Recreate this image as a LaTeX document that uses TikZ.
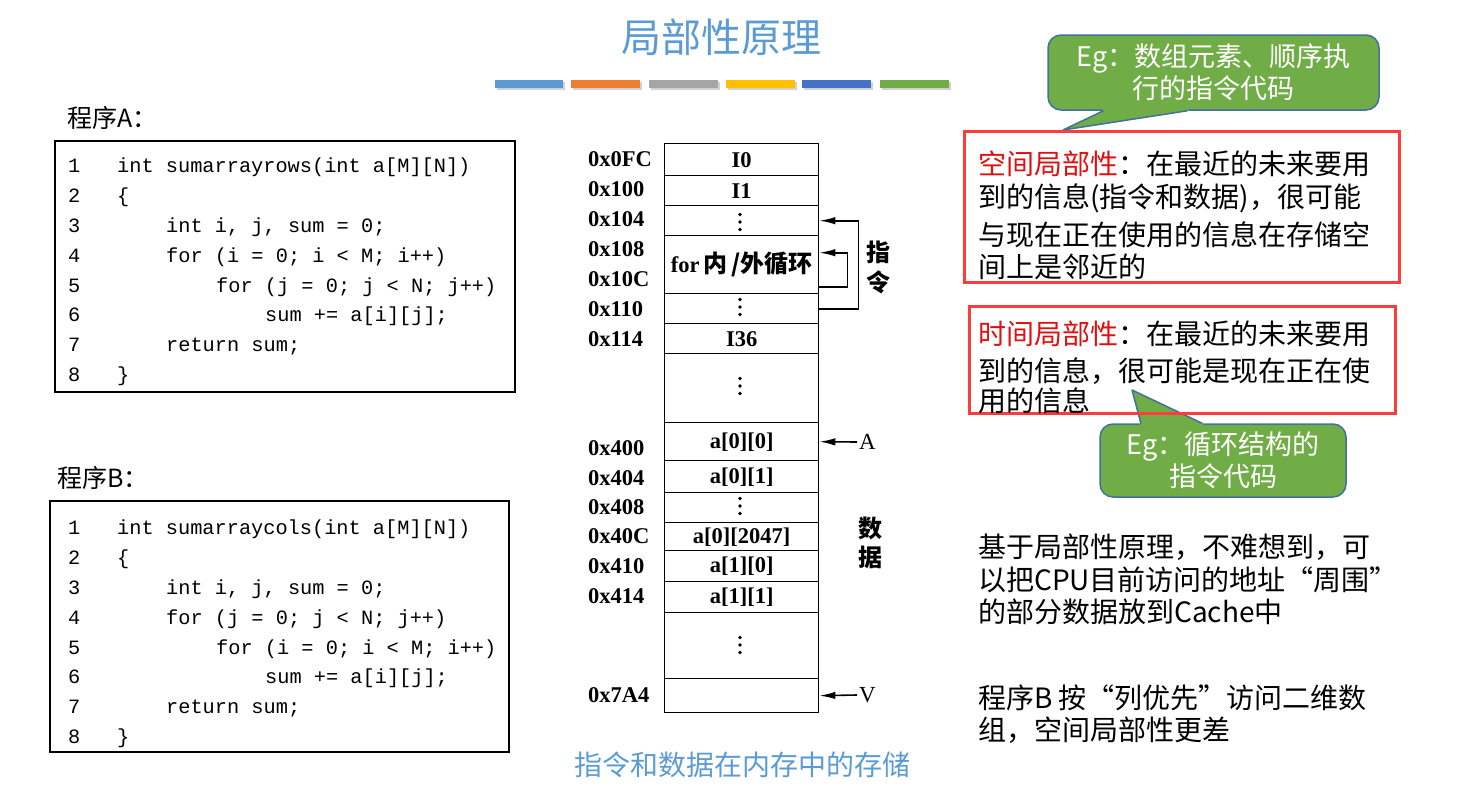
\documentclass[tikz,border=0pt]{standalone}
\usepackage{fontspec}
\setmainfont{Liberation Serif}
\newfontfamily\cjk{Noto Sans CJK SC}
\newfontfamily\mono{Liberation Mono}
\usetikzlibrary{arrows.meta}
\definecolor{tblue}{HTML}{5B9BD5}
\definecolor{borange}{HTML}{ED7D31}
\definecolor{bgray}{HTML}{A5A5A5}
\definecolor{byellow}{HTML}{FFC000}
\definecolor{bdblue}{HTML}{4472C4}
\definecolor{bgreen}{HTML}{70AD47}
\definecolor{cborder}{HTML}{41719C}
\definecolor{rbox}{HTML}{FF3B3B}
\definecolor{rtext}{HTML}{E01010}
\tikzset{bigtip/.tip={Latex[length=16pt,width=7.5pt]}}
\begin{document}
\begin{tikzpicture}[x=1pt,y=-1pt,
  codeln/.style={anchor=base west, inner sep=0, font=\mono\fontsize{20.3}{24}\selectfont},
  addr/.style={anchor=base west, inner sep=0, font=\bfseries\fontsize{22.5}{26}\selectfont},
  cell/.style={draw, line width=1.4, minimum width=154, anchor=north west, inner sep=0, font=\bfseries\fontsize{22.5}{26}\selectfont},
  arr/.style={line width=1.6, arrows={-bigtip}},
  rtxt/.style={anchor=base west, inner sep=0, font=\cjk\fontsize{28}{30}\selectfont},
  greenbox/.style={fill=bgreen, draw=cborder, line width=1.5, rounded corners=13, inner sep=0, text=white, align=center, font=\cjk\fontsize{27}{32}\selectfont},
  redbox/.style={draw=rbox, line width=3},
  vlab/.style={font=\cjk\bfseries\fontsize{24}{26}\selectfont, inner sep=0}
]
\useasboundingbox (0,0) rectangle (1462,787);

% title
\node[font=\cjk\fontsize{40}{48}\selectfont, text=tblue, inner sep=0] (title) at (721,37) {局部性原理};
% color bars
\foreach \xa/\xb/\c in {495/563/tblue, 571/640/borange, 649/718/bgray, 726/795/byellow, 802/871/bdblue, 880/949/bgreen}{
  \fill[black, opacity=0.18] (\xa+1.5,81.5) rectangle (\xb+1.5,89.5);
  \fill[\c] (\xa,80) rectangle (\xb,88);
}

% program A
\node[anchor=west, inner sep=0, font=\cjk\fontsize{25}{28}\selectfont] (labA) at (67,118) {程序A：};
\draw[line width=1.5] (55,141) rectangle (515,392);
\foreach \n/\yy in {1/165,2/195,3/225,4/255,5/285,6/314,7/344,8/374}{
  \node[codeln] (na\n) at (68,\yy+7) {\n};
}
\node[codeln] (a1) at (117,172) {int sumarrayrows(int a[M][N])};
\node[codeln] (a2) at (117,202) {\{};
\node[codeln] (a3) at (166,232) {int i, j, sum = 0;};
\node[codeln] (a4) at (166,262) {for (i = 0; i < M; i++)};
\node[codeln] (a5) at (216,292) {for (j = 0; j < N; j++)};
\node[codeln] (a6) at (265,321) {sum += a[i][j];};
\node[codeln] (a7) at (166,351) {return sum;};
\node[codeln] (a8) at (117,381) {\}};

% program B
\node[anchor=west, inner sep=0, font=\cjk\fontsize{25}{28}\selectfont] (labB) at (57,478) {程序B：};
\draw[line width=1.5] (50,501) rectangle (509,752);
\foreach \n/\yy in {1/527,2/557,3/587,4/617,5/647,6/676,7/706,8/736}{
  \node[codeln] (nb\n) at (68,\yy+7) {\n};
}
\node[codeln] (b1) at (117,534) {int sumarraycols(int a[M][N])};
\node[codeln] (b2) at (117,564) {\{};
\node[codeln] (b3) at (166,594) {int i, j, sum = 0;};
\node[codeln] (b4) at (166,624) {for (j = 0; j < N; j++)};
\node[codeln] (b5) at (216,654) {for (i = 0; i < M; i++)};
\node[codeln] (b6) at (265,683) {sum += a[i][j];};
\node[codeln] (b7) at (166,713) {return sum;};
\node[codeln] (b8) at (117,743) {\}};

% memory cells
\node[cell, minimum height=32] (r0) at (664,143) {I0};
\node[cell, minimum height=30] (r1) at (664,175) {I1};
\node[cell, minimum height=30] (r2) at (664,205) {};
\node[cell, minimum height=58] (r3) at (664,235) {for\,{\cjk\fontsize{24}{26}\selectfont 内\,/外循环}};
\node[cell, minimum height=30] (r4) at (664,293) {};
\node[cell, minimum height=30] (r5) at (664,323) {I36};
\node[cell, minimum height=69] (r6) at (664,353) {};
\node[cell, minimum height=38] (r7) at (664,422) {a[0][0]};
\node[cell, minimum height=32] (r8) at (664,460) {a[0][1]};
\node[cell, minimum height=30] (r9) at (664,492) {};
\node[cell, minimum height=28] (r10) at (664,522) {a[0][2047]};
\node[cell, minimum height=31] (r11) at (664,550) {a[1][0]};
\node[cell, minimum height=31] (r12) at (664,581) {a[1][1]};
\node[cell, minimum height=66] (r13) at (664,612) {};
\node[cell, minimum height=34] (r14) at (664,678) {};
% vertical dots
\foreach \yy in {222,307,386,506,645}{
  \foreach \d in {-7.5,0,7.5}{ \fill (740,\yy+\d) circle (1.8); }
}
% addresses
\foreach \t/\yy in {0x0FC/158,0x100/188,0x104/218,0x108/248,0x10C/278,0x110/308,0x114/338,0x400/447,0x404/477,0x408/506,0x40C/535,0x410/565,0x414/595,0x7A4/694}{
  \node[addr] at (588,\yy+8) {\t};
}
% loop arrows
\draw[arr] (r4.east) -- ++(39,0) |- (r2.east);
\draw[arr] ([yshift=-22]r3.east) -- ++(28,0) |- ([yshift=12]r3.east);
% A and V
\node[anchor=west, inner sep=2, font=\fontsize{23}{26}\selectfont] (labAA) at (857,442) {A};
\node[anchor=west, inner sep=2, font=\fontsize{23}{26}\selectfont] (labV) at (857,695) {V};
\draw[arr] (labAA.west) -- (r7.east);
\draw[arr] (labV.west) -- (r14.east);
% side labels
\node[vlab] (zhi) at (878,252) {指};
\node[vlab] (ling) at (878,282) {令};
\node[vlab] (shu) at (870,528) {数};
\node[vlab] (ju) at (870,557) {据};
% caption
\node[font=\cjk\fontsize{28}{30}\selectfont, text=tblue, inner sep=0] (cap) at (742,765) {指令和数据在内存中的存储};

% callout 1
\node[greenbox, minimum width=331, minimum height=75] (cal1) at (1213.5,72.5) {Eg：数组元素、顺序执\\行的指令代码};
\coordinate (tip1) at (1063,130);
\fill[bgreen] ([xshift=-111]cal1.south) -- (tip1) -- ([xshift=-25]cal1.south) -- ([xshift=-25,yshift=2]cal1.south) -- ([xshift=-111,yshift=2]cal1.south) -- cycle;
\draw[cborder, line width=1.5, line join=round] ([xshift=-110]cal1.south) -- (tip1) -- ([xshift=-26]cal1.south);

% callout 2
\node[greenbox, minimum width=246, minimum height=73] (cal2) at (1223,460.5) {Eg：循环结构的\\指令代码};
\coordinate (tip2) at (1132,390);
\fill[bgreen] ([xshift=-83]cal2.north) -- (tip2) -- ([xshift=-20]cal2.north) -- ([xshift=-20,yshift=-2]cal2.north) -- ([xshift=-83,yshift=-2]cal2.north) -- cycle;
\draw[cborder, line width=1.5, line join=round] ([xshift=-82]cal2.north) -- (tip2) -- ([xshift=-21]cal2.north);

% red boxes
\draw[redbox] (964,131) rectangle (1399,282);
\draw[redbox] (969,306) rectangle (1395,413);
\node[rtxt] (s1) at (978,174) {{\color{rtext}空间局部性}：在最近的未来要用};
\node[rtxt] (s2) at (978,207) {到的信息(指令和数据)，很可能};
\node[rtxt] (s3) at (978,245) {与现在正在使用的信息在存储空};
\node[rtxt] (s4) at (978,277) {间上是邻近的};
\node[rtxt] (t1) at (978,344) {{\color{rtext}时间局部性}：在最近的未来要用};
\node[rtxt] (t2) at (978,381) {到的信息，很可能是现在正在使};
\node[rtxt] (t3) at (978,411) {用的信息};

% bottom right text
\node[rtxt] (p1) at (978,557) {基于局部性原理，不难想到，可};
\node[rtxt] (p2) at (978,590) {以把CPU目前访问的地址“周围”};
\node[rtxt] (p3) at (978,622) {的部分数据放到Cache中};
\node[rtxt] (q1) at (978,708) {程序B 按“列优先”访问二维数};
\node[rtxt] (q2) at (978,740) {组，空间局部性更差};
\end{tikzpicture}
\end{document}
